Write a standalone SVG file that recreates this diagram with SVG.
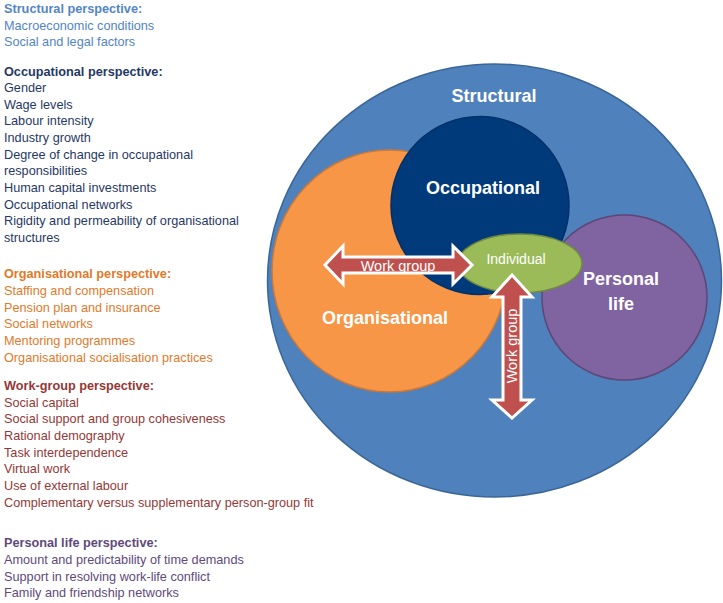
<svg xmlns="http://www.w3.org/2000/svg" width="723" height="603" viewBox="0 0 723 603">
<style>
.t{font-family:"Liberation Sans",Arial,sans-serif;font-size:12.7px}
.h{font-weight:bold}
.s{fill:#5285C4}
.o{fill:#1F3864}
.g{fill:#E2792A}
.w{fill:#953735}
.p{fill:#5F497A}
.big{font-family:"Liberation Sans",Arial,sans-serif;font-size:18px;font-weight:bold;fill:#fff;text-anchor:middle}
.lbl{font-family:"Liberation Sans",Arial,sans-serif;font-size:14.5px;fill:#fff;text-anchor:middle}
.arrow{fill:#C0504D;stroke:#fff;stroke-width:3;stroke-linejoin:miter}
</style>
<rect width="723" height="603" fill="#fff"/>
<g id="legend" class="t">
<text x="4" y="13" class="h s">Structural perspective:</text>
<text x="4" y="29.5" class="s">Macroeconomic conditions</text>
<text x="4" y="46" class="s">Social and legal factors</text>
<text x="4" y="75.5" class="h o">Occupational perspective:</text>
<text x="4" y="92" class="o">Gender</text>
<text x="4" y="108.7" class="o">Wage levels</text>
<text x="4" y="125.3" class="o">Labour intensity</text>
<text x="4" y="142" class="o">Industry growth</text>
<text x="4" y="158.6" class="o">Degree of change in occupational</text>
<text x="4" y="175.2" class="o">responsibilities</text>
<text x="4" y="191.9" class="o">Human capital investments</text>
<text x="4" y="208.5" class="o">Occupational networks</text>
<text x="4" y="225.1" class="o">Rigidity and permeability of organisational</text>
<text x="4" y="241.8" class="o">structures</text>
<text x="4" y="278.3" class="h g">Organisational perspective:</text>
<text x="4" y="295" class="g">Staffing and compensation</text>
<text x="4" y="311.7" class="g">Pension plan and insurance</text>
<text x="4" y="328.3" class="g">Social networks</text>
<text x="4" y="345" class="g">Mentoring programmes</text>
<text x="4" y="361.7" class="g">Organisational socialisation practices</text>
<text x="4" y="390" class="h w">Work-group perspective:</text>
<text x="4" y="406.7" class="w">Social capital</text>
<text x="4" y="423.3" class="w">Social support and group cohesiveness</text>
<text x="4" y="440" class="w">Rational demography</text>
<text x="4" y="456.7" class="w">Task interdependence</text>
<text x="4" y="473.3" class="w">Virtual work</text>
<text x="4" y="490" class="w">Use of external labour</text>
<text x="4" y="506.7" class="w">Complementary versus supplementary person-group fit</text>
<text x="4" y="547.3" class="h p">Personal life perspective:</text>
<text x="4" y="564" class="p">Amount and predictability of time demands</text>
<text x="4" y="580.7" class="p">Support in resolving work-life conflict</text>
<text x="4" y="597.3" class="p">Family and friendship networks</text>
</g>
<g id="structural">
<ellipse cx="494.5" cy="280.5" rx="227" ry="216.5" fill="#4F81BD" stroke="#3A6696" stroke-width="1.5"/>
<text x="494" y="102" class="big">Structural</text>
</g>
<g id="organisational">
<ellipse cx="389.5" cy="271" rx="117.5" ry="121" fill="#F79646" stroke="#C9783A" stroke-width="1.5"/>
<text x="385" y="324" class="big">Organisational</text>
</g>
<g id="occupational">
<circle cx="480" cy="205.5" r="89" fill="#003A7A" stroke="#02316A" stroke-width="1.5"/>
<text x="483" y="194" class="big">Occupational</text>
</g>
<g id="personal">
<circle cx="624.5" cy="297.5" r="82.5" fill="#8064A2" stroke="#5C4776" stroke-width="1.5"/>
<text x="621" y="285" class="big">Personal</text>
<text x="621" y="310" class="big">life</text>
</g>
<g id="individual">
<ellipse cx="520" cy="263.5" rx="62" ry="29.5" fill="#9BBB59" stroke="#71893F" stroke-width="1.5"/>
<text x="516" y="264" class="lbl" style="font-size:14px">Individual</text>
</g>
<g id="connectors">
<path class="arrow" d="M325,265 L343,246 L343,257 L453,257 L453,246 L472,265 L453,284 L453,273 L343,273 L343,284 Z"/>
<text x="398" y="271" class="lbl">Work group</text>
<path class="arrow" d="M512,275 L532,297 L521,297 L521,400 L532,400 L512,418 L492,400 L503,400 L503,297 L492,297 Z"/>
<text transform="translate(517,346) rotate(-90)" x="0" y="0" class="lbl">Work group</text>
</g>
</svg>
